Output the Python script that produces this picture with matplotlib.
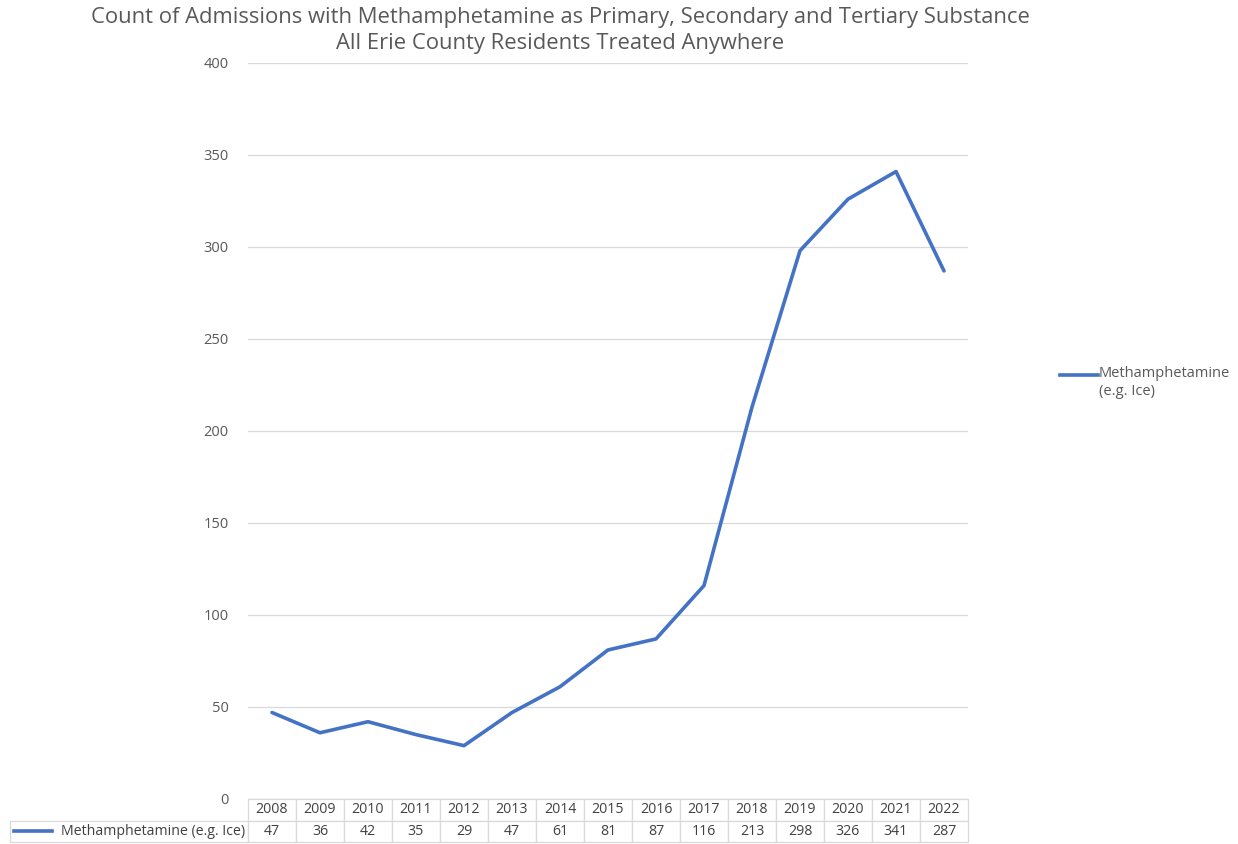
import matplotlib
matplotlib.use("Agg")
import matplotlib.pyplot as plt
from matplotlib.lines import Line2D

# ── Data ──────────────────────────────────────────────────────────────────────
years = ["2008", "2009", "2010", "2011", "2012", "2013", "2014", "2015",
         "2016", "2017", "2018", "2019", "2020", "2021", "2022"]
admissions = [47, 36, 42, 35, 29, 47, 61, 81, 87, 116, 213, 298, 326, 341, 287]
series_label = "Methamphetamine (e.g. Ice)"
legend_label = "Methamphetamine\n(e.g. Ice)"
title = ("Count of Admissions with Methamphetamine as Primary, Secondary and Tertiary Substance\n"
         "All Erie County Residents Treated Anywhere")
yticks = [0, 50, 100, 150, 200, 250, 300, 350, 400]

LINE = "#4472C4"
GRID = "#D9D9D9"
TXT = "#595959"

W, H = 1238, 844
plt.rcParams["font.family"] = ["Open Sans", "DejaVu Sans"]

fig = plt.figure(figsize=(W / 100, H / 100), dpi=100)
fig.patch.set_facecolor("white")

# plot area in pixels: x 248..968, y 63..799
ax = fig.add_axes([248 / W, 1 - 799 / H, 720 / W, 736 / H])
x = list(range(len(years)))
ax.plot(x, admissions, color=LINE, linewidth=2.6, solid_capstyle="round", solid_joinstyle="round")

ax.set_xlim(-0.5, len(years) - 0.5)
ax.set_ylim(0, 400)
ax.set_yticks(yticks)
ax.set_yticklabels([str(v) for v in yticks], fontsize=10.5, color=TXT)
ax.tick_params(axis="y", length=0, pad=14)
ax.set_xticks([])
ax.grid(axis="y", color=GRID, linewidth=0.9)
ax.set_axisbelow(True)
for s in ax.spines.values():
    s.set_visible(False)

# ── Data table below the plot ────────────────────────────────────────────────
cell_text = [[""] + years, [series_label] + [str(v) for v in admissions]]
col_w = [238 / 958] + [48 / 958] * len(years)
tbl = ax.table(cellText=cell_text, colWidths=col_w, cellLoc="center",
               bbox=[(10 - 248) / 720, -43 / 736, 958 / 720, 43 / 736])
tbl.auto_set_font_size(False)
tbl.set_fontsize(10.2)
for (r, c), cell in tbl.get_celld().items():
    cell.set_edgecolor(GRID)
    cell.set_linewidth(0.9)
    cell.get_text().set_color("#404040")
    if r == 0 and c == 0:
        cell.visible_edges = ""
    if r == 1 and c == 0:
        cell.get_text().set_horizontalalignment("right")
        cell.PAD = 0.01

# legend key inside the table row label
fig.add_artist(Line2D([14 / W, 52 / W], [1 - 831 / H, 1 - 831 / H], color=LINE, linewidth=2.6))

# ── Legend on the right ──────────────────────────────────────────────────────
fig.add_artist(Line2D([1060 / W, 1098 / W], [1 - 375 / H, 1 - 375 / H], color=LINE, linewidth=2.6))
fig.text(1099 / W, 1 - 366 / H, legend_label, fontsize=10.5, color=TXT, va="top", ha="left",
         linespacing=1.3)

# ── Title ────────────────────────────────────────────────────────────────────
fig.text(560 / W, 1 - 7 / H, title, fontsize=15.8, color=TXT, ha="center", va="top", linespacing=1.3)

fig.savefig("out.png", dpi=100)
